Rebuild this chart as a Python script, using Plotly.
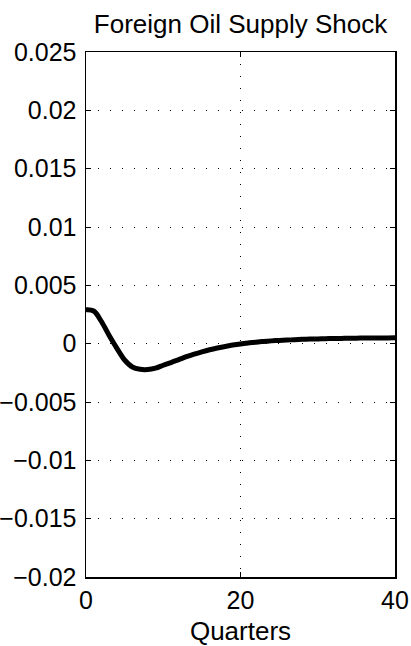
import plotly.graph_objects as go

quarters = list(range(0, 41))
response = [0.0029, 0.0028, 0.0019, 0.0007, -0.0004, -0.0014, -0.0020, -0.0022, -0.00222, -0.0021,
            -0.00185, -0.00162, -0.00137, -0.00112, -0.0009, -0.0007, -0.00052, -0.00037, -0.00024, -0.00012,
            -0.00002, 0.00006, 0.00013, 0.00019, 0.00024, 0.00028, 0.00031, 0.00034, 0.00037, 0.00039,
            0.00041, 0.00043, 0.00044, 0.00045, 0.00046, 0.00047, 0.00048, 0.00048, 0.00049, 0.00049, 0.0005]

y_ticks = [-0.02, -0.015, -0.01, -0.005, 0, 0.005, 0.01, 0.015, 0.02, 0.025]
y_labels = ["\u22120.02", "\u22120.015", "\u22120.01", "\u22120.005", "0", "0.005", "0.01", "0.015", "0.02", "0.025"]
x_ticks = [0, 20, 40]

fig = go.Figure()
fig.add_trace(go.Scatter(x=quarters, y=response, mode="lines",
                         line=dict(color="black", width=5, shape="spline", smoothing=1.0),
                         showlegend=False, hoverinfo="skip"))

family = "Liberation Sans, Arial, sans-serif"
tick_font = dict(family=family, size=25, color="black")
title_font = dict(family=family, size=26, color="black")
fig.update_layout(
    width=411, height=646,
    margin=dict(l=86, r=16, t=52, b=69, autoexpand=False),
    paper_bgcolor="white", plot_bgcolor="white",
    font=tick_font,
    title=dict(text="Foreign Oil Supply Shock", x=0.5, xanchor="center",
               xref="paper", y=1, yref="paper", yanchor="bottom",
               pad=dict(b=19), font=title_font, automargin=False),
)
fig.update_xaxes(range=[0, 40], tickvals=x_ticks, ticktext=[str(v) for v in x_ticks],
                 showline=True, mirror="ticks", linecolor="black", linewidth=1.5,
                 ticks="inside", ticklen=5, tickcolor="black", tickfont=tick_font,
                 showgrid=True, gridcolor="black", gridwidth=1, griddash="1px,11px",
                 zeroline=False, automargin=False,
                 title=dict(text="Quarters", standoff=9, font=title_font))
fig.update_yaxes(range=[-0.02, 0.025], tickvals=y_ticks, ticktext=y_labels,
                 showline=True, mirror="ticks", linecolor="black", linewidth=1.5,
                 ticks="inside", ticklen=5, tickcolor="black", tickfont=tick_font,
                 ticklabelstandoff=3,
                 showgrid=True, gridcolor="black", gridwidth=1, griddash="1px,11px",
                 zeroline=False, automargin=False)

fig.write_html("out.html", config={"displayModeBar": False, "staticPlot": True},
               post_script="document.body.style.margin='0';document.body.style.overflow='hidden';")
